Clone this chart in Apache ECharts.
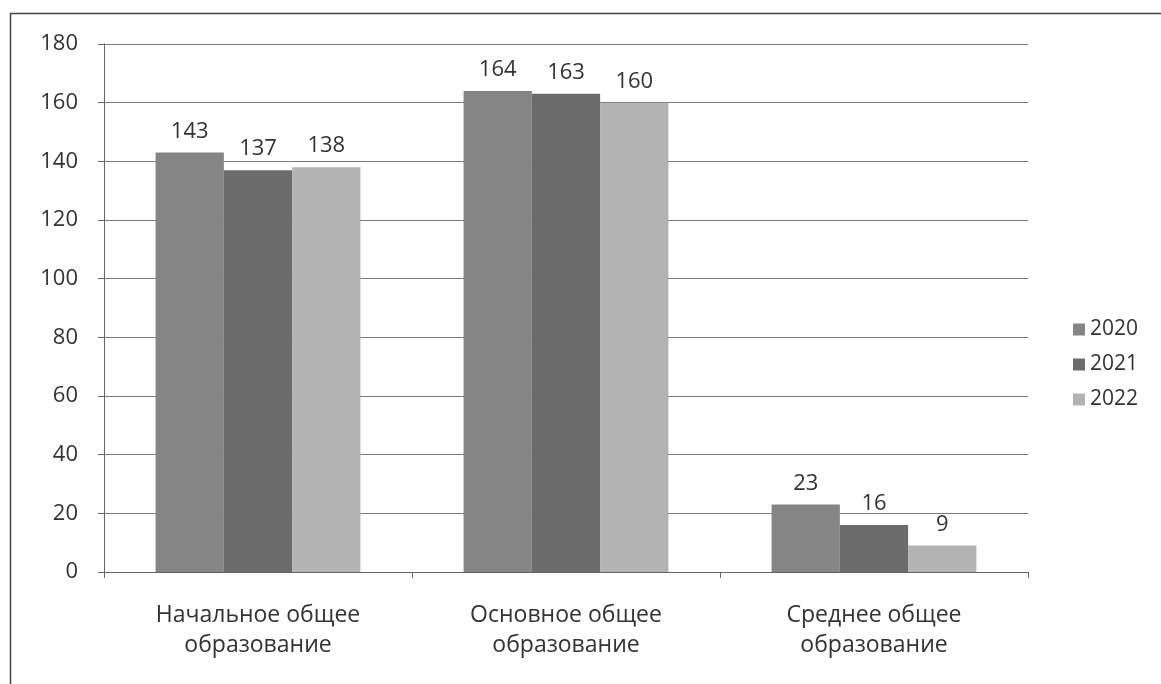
<!DOCTYPE html>
<html><head><meta charset="utf-8">
<script src="https://cdn.jsdelivr.net/npm/echarts@6/dist/echarts.min.js"></script>
<style>html,body{margin:0;padding:0;background:#fff}#c{width:1161px;height:684px}</style>
</head><body><div id="c"></div>
<script>
const categories = ['Начальное общее\nобразование', 'Основное общее\nобразование', 'Среднее общее\nобразование'];
const seriesNames = ['2020', '2021', '2022'];
const values2020 = [143, 164, 23];
const values2021 = [137, 163, 16];
const values2022 = [138, 160, 9];
const colors = ['#858585', '#6c6c6c', '#b3b3b3'];
const FONT = '"Open Sans", "Noto Sans", sans-serif';
const chart = echarts.init(document.getElementById('c'));
const dataSets = [values2020, values2021, values2022];
chart.setOption({
  animation: false,
  graphic: [{type: 'rect', shape: {x: 10.5, y: 13.5, width: 1170, height: 700}, style: {fill: 'none', stroke: '#444', lineWidth: 1.5}, silent: true}],
  grid: {left: 104, right: 133, top: 44, bottom: 112},
  legend: {
    orient: 'vertical', left: 1068, top: 314, itemGap: 14, itemWidth: 12, itemHeight: 12,
    icon: 'rect', data: seriesNames,
    textStyle: {fontFamily: FONT, fontSize: 21, color: '#333'}
  },
  xAxis: {
    type: 'category', data: categories,
    axisLine: {lineStyle: {color: '#666', width: 1}},
    axisTick: {show: true, length: 6, lineStyle: {color: '#666'}},
    axisLabel: {fontFamily: FONT, fontSize: 23, color: '#333', margin: 28, lineHeight: 30}
  },
  yAxis: {
    type: 'value', min: 0, max: 180, interval: 20,
    axisLine: {show: true, lineStyle: {color: '#666'}},
    axisTick: {show: true, length: 6, lineStyle: {color: '#666'}},
    splitLine: {lineStyle: {color: '#777', width: 1}},
    axisLabel: {fontFamily: FONT, fontSize: 22, color: '#333', margin: 26}
  },
  series: seriesNames.map((n, i) => ({
    name: n, type: 'bar', data: dataSets[i],
    barGap: '0%', barCategoryGap: '33.5%',
    itemStyle: {color: colors[i]},
    label: {show: true, position: 'top', distance: 10, fontFamily: FONT, fontSize: 22, color: '#333'}
  }))
});
</script></body></html>
